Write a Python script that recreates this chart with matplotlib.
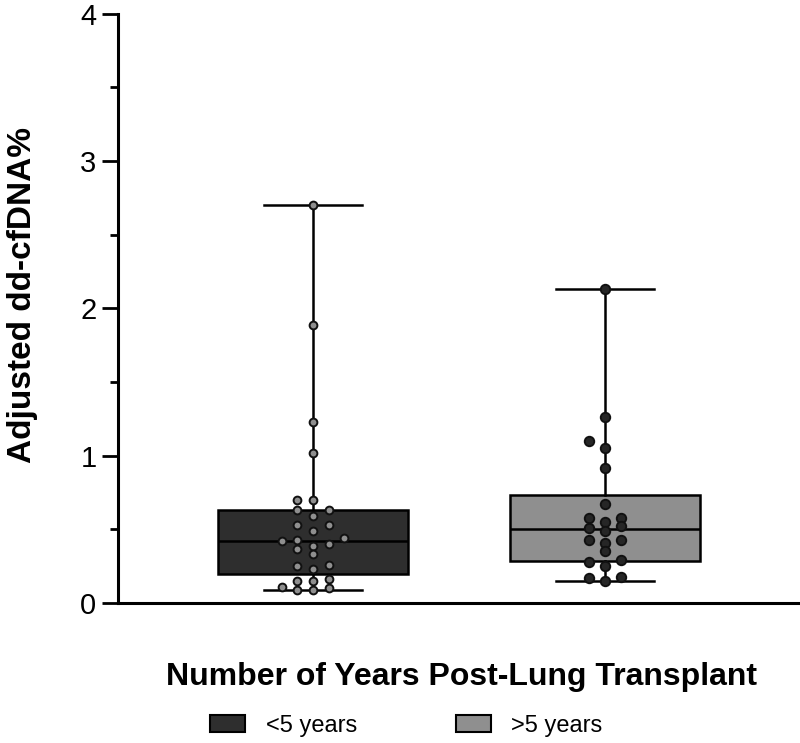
import numpy as np
import matplotlib.pyplot as plt
from matplotlib.patches import Patch

plt.rcParams['font.family'] = ['Liberation Sans', 'DejaVu Sans']

# Data
groups = ["<5 years", ">5 years"]
under5 = [2.70, 1.89, 1.23, 1.02,
          0.70, 0.70, 0.63, 0.59, 0.63, 0.53, 0.53, 0.49, 0.44, 0.42, 0.43,
          0.40, 0.39, 0.37, 0.33, 0.25, 0.23, 0.26, 0.15, 0.16, 0.15,
          0.09, 0.10, 0.11, 0.09]
over5 = [2.13, 1.26, 1.10, 1.05, 0.92, 0.67, 0.55, 0.58, 0.58, 0.49, 0.51,
         0.52, 0.43, 0.43, 0.41, 0.35, 0.28, 0.29, 0.25, 0.18, 0.17, 0.15]
box_colors = ["#2e2e2e", "#8f8f8f"]
dot_colors = ["#8f8f8f", "#262626"]
yticks = [0, 1, 2, 3, 4]


def swarm_offsets(vals, step, dy):
    vals = np.asarray(vals)
    offs = np.zeros(len(vals))
    placed = []
    for i in np.argsort(vals):
        for k in [0, -1, 1, -2, 2, -3, 3]:
            if all(not (s == k and abs(y - vals[i]) < dy) for s, y in placed):
                placed.append((k, vals[i]))
                offs[i] = k * step
                break
    return offs


def box_stats(vals):
    # quartiles like GraphPad (n+1 method), whiskers min to max
    q1, med, q3 = np.percentile(vals, [25, 50, 75], method="weibull")
    return dict(med=med, q1=q1, q3=q3, whislo=min(vals), whishi=max(vals), fliers=[])


fig = plt.figure(figsize=(8, 7.43), dpi=100)
ax = fig.add_axes([0.1475, 0.1884, 0.8525, 0.793])

data = [under5, over5]
bp = ax.bxp([box_stats(v) for v in data], positions=[0, 1], widths=0.65,
            showfliers=False, patch_artist=True, capwidths=0.335,
            medianprops=dict(color="black", linewidth=1.8),
            whiskerprops=dict(color="black", linewidth=1.8),
            capprops=dict(color="black", linewidth=1.8),
            boxprops=dict(edgecolor="black", linewidth=1.8))
for patch, c in zip(bp["boxes"], box_colors):
    patch.set_facecolor(c)

sizes = [5.6, 6.8]
for i, vals in enumerate(data):
    offs = swarm_offsets(vals, 0.0535, 0.056)
    ax.plot(i + offs, vals, "o", ms=sizes[i], mfc=dot_colors[i],
            mec="#111111", mew=1.4, zorder=5, linestyle="none")

ax.set_xlim(-0.668, 1.668)
ax.set_ylim(0, 4)
ax.set_xticks([])
ax.set_yticks(yticks)
ax.set_yticks(np.arange(0.5, 4, 1.0), minor=True)
ax.tick_params(axis="y", which="major", length=11.5, width=2, labelsize=21, pad=4)
ax.tick_params(axis="y", which="minor", length=6, width=2)
for s in ["top", "right"]:
    ax.spines[s].set_visible(False)
for s in ["left", "bottom"]:
    ax.spines[s].set_linewidth(2.2)

ax.set_ylabel("Adjusted dd-cfDNA%", fontsize=24, fontweight="bold")
ax.yaxis.set_label_coords(-0.117, 0.522)

fig.text(0.577, 0.089, "Number of Years Post-Lung Transplant", fontsize=23,
         fontweight="bold", ha="center", va="center")

handles = [Patch(facecolor=c, edgecolor="black", linewidth=1.5) for c in box_colors]
fig.legend(handles, groups, loc="center", bbox_to_anchor=(0.508, 0.0235), ncol=2,
           frameon=False, fontsize=17, handlelength=1.5, handleheight=0.75,
           handletextpad=0.85, columnspacing=4.2)

fig.savefig("out.png", dpi=100)
